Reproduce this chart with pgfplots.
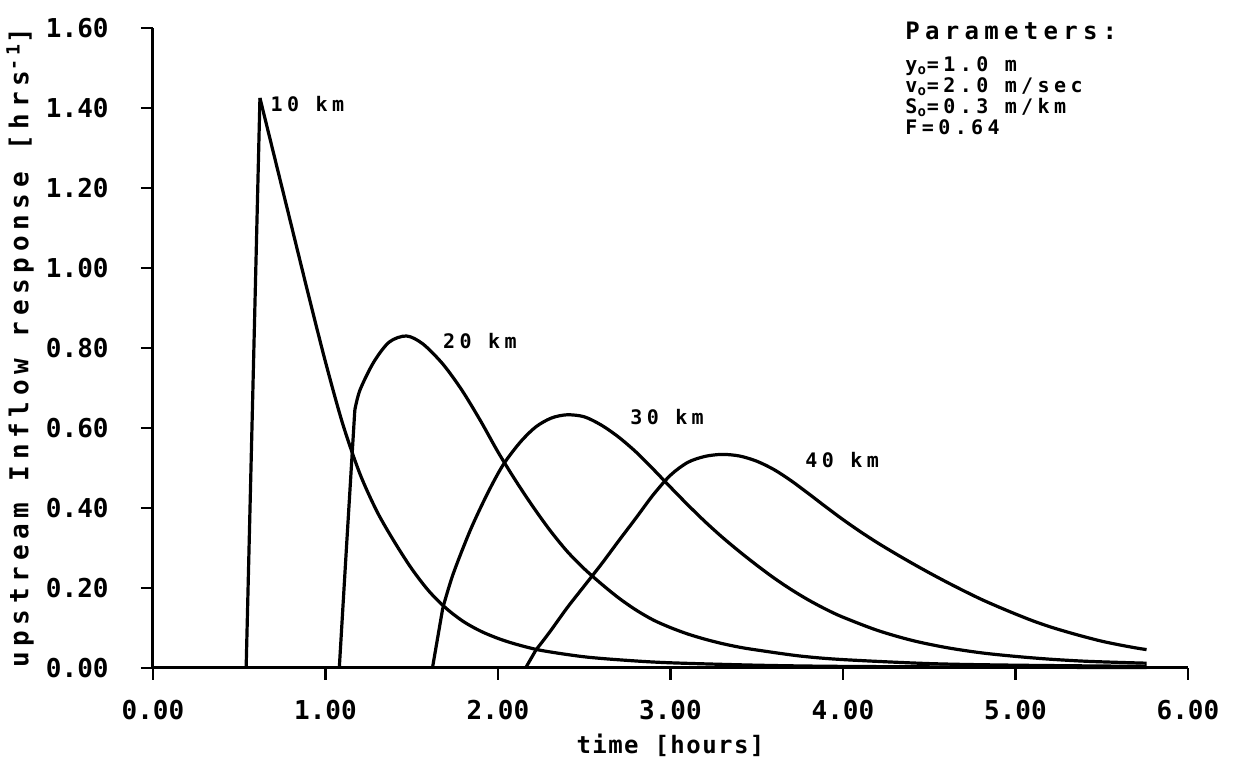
\documentclass[border=0pt]{standalone}
\usepackage{fontspec}
\setmainfont{DejaVu Sans Mono}
\newfontfamily\pf{DejaVu Sans Mono}
\newfontfamily\pfs{DejaVu Sans Mono}[LetterSpace=22]
\newfontfamily\pfx{DejaVu Sans Mono}[LetterSpace=6]
\usepackage{pgfplots}
\pgfplotsset{compat=1.18}
\tikzset{curve/.style={black, solid, line width=1.6pt, line join=round, mark=none}}
\begin{document}
\begin{tikzpicture}
\begin{axis}[
  at={(0,0)}, anchor=south west,
  scale only axis, width=517.5pt, height=320pt,
  xmin=0, xmax=6, ymin=0, ymax=1.6,
  axis lines=left,
  axis line style={-, line width=1.5pt},
  xtick={0,1,2,3,4,5,6},
  ytick={0,0.2,0.4,0.6,0.8,1.0,1.2,1.4,1.6},
  tick align=outside,
  major tick length=6pt,
  tick style={line width=1.3pt, black},
  /pgf/number format/assume math mode=true,
  /pgf/number format/.cd, fixed, fixed zerofill, precision=2, /pgfplots/.cd,
  ticklabel style={font=\pf\bfseries\fontsize{13}{13}\selectfont, inner sep=0pt},
  yticklabel style={anchor=east, xshift=-16pt},
  xticklabel style={anchor=north, yshift=-10pt},
  xlabel={time [hours]},
  ylabel={upstream Inflow response [hrs\textsuperscript{-1}]},
  xlabel style={font=\pfx\bfseries\fontsize{12}{12}\selectfont, at={(axis description cs:0.5,0)}, anchor=center, yshift=-38.5pt},
  ylabel style={font=\pfs\bfseries\fontsize{13}{13}\selectfont, at={(axis description cs:-0.1285,0.5)}, anchor=center},
  clip=false,
]
% 10 km: rise and decay
\addplot[curve] coordinates {(0.54,0) (0.62,1.425)};
\addplot[curve, smooth, tension=0.5] coordinates {(0.62,1.425) (0.70,1.285) (0.80,1.11) (0.90,0.935) (1.00,0.765) (1.10,0.61) (1.20,0.485) (1.30,0.39) (1.40,0.315) (1.50,0.248) (1.60,0.192) (1.70,0.149) (1.80,0.116) (1.90,0.092) (2.00,0.074) (2.10,0.060) (2.25,0.044) (2.50,0.028) (2.75,0.019) (3.00,0.013) (3.50,0.007) (4.00,0.004) (5.00,0.002) (5.76,0.001)};
% 20 km
\addplot[curve] coordinates {(1.08,0) (1.12,0.29) (1.17,0.645)};
\addplot[curve, smooth, tension=0.5] coordinates {(1.17,0.645) (1.20,0.695) (1.28,0.765) (1.37,0.815) (1.47,0.83) (1.565,0.81) (1.68,0.76) (1.79,0.695) (1.90,0.617) (2.00,0.540) (2.10,0.470) (2.20,0.405) (2.30,0.345) (2.40,0.292) (2.50,0.248) (2.60,0.210) (2.70,0.175) (2.80,0.145) (2.90,0.120) (3.00,0.101) (3.10,0.085) (3.20,0.072) (3.30,0.061) (3.40,0.052) (3.50,0.045) (3.75,0.030) (4.00,0.021) (4.50,0.011) (5.00,0.007) (5.76,0.004)};
% 30 km
\addplot[curve] coordinates {(1.62,0) (1.68,0.15)};
\addplot[curve, smooth, tension=0.5] coordinates {(1.68,0.15) (1.74,0.235) (1.84,0.345) (1.94,0.437) (2.03,0.508) (2.13,0.565) (2.22,0.603) (2.31,0.625) (2.40,0.633) (2.50,0.628) (2.60,0.607) (2.70,0.577) (2.80,0.540) (2.90,0.497) (3.00,0.452) (3.10,0.408) (3.20,0.366) (3.30,0.327) (3.40,0.291) (3.50,0.257) (3.60,0.225) (3.70,0.196) (3.80,0.170) (3.90,0.147) (4.00,0.127) (4.20,0.094) (4.40,0.069) (4.60,0.051) (4.80,0.038) (5.00,0.029) (5.20,0.022) (5.40,0.017) (5.60,0.014) (5.76,0.012)};
% 40 km
\addplot[curve] coordinates {(2.16,0) (2.22,0.045)};
\addplot[curve, smooth, tension=0.5] coordinates {(2.22,0.045) (2.30,0.09) (2.40,0.15) (2.50,0.205) (2.60,0.26) (2.70,0.318) (2.80,0.375) (2.90,0.433) (3.00,0.482) (3.10,0.514) (3.20,0.529) (3.30,0.534) (3.40,0.530) (3.50,0.517) (3.60,0.496) (3.70,0.468) (3.80,0.436) (3.90,0.403) (4.00,0.371) (4.10,0.341) (4.20,0.313) (4.30,0.287) (4.40,0.262) (4.50,0.238) (4.60,0.215) (4.70,0.193) (4.80,0.172) (4.90,0.153) (5.00,0.135) (5.10,0.118) (5.20,0.103) (5.30,0.09) (5.40,0.078) (5.50,0.067) (5.60,0.058) (5.70,0.05) (5.76,0.046)};
\node[anchor=west, inner sep=0pt, font=\pfs\bfseries\fontsize{10}{10}\selectfont] at (axis cs:0.68,1.41) {10 km};
\node[anchor=west, inner sep=0pt, font=\pfs\bfseries\fontsize{10}{10}\selectfont] at (axis cs:1.68,0.818) {20 km};
\node[anchor=west, inner sep=0pt, font=\pfs\bfseries\fontsize{10}{10}\selectfont] at (axis cs:2.765,0.628) {30 km};
\node[anchor=west, inner sep=0pt, font=\pfs\bfseries\fontsize{10}{10}\selectfont] at (axis cs:3.78,0.52) {40 km};
\node[anchor=north west, inner sep=0pt, align=left, font=\pfs\bfseries\fontsize{10}{10.6}\selectfont] at (axis cs:4.36,1.615)
  {{\fontsize{12}{12}\selectfont Parameters:}\\[5pt]
   y\textsubscript{o}=1.0 m\\
   v\textsubscript{o}=2.0 m/sec\\
   S\textsubscript{o}=0.3 m/km\\
   F=0.64};
\end{axis}
\pgfresetboundingbox
\path (-76.5pt,-48.5pt) rectangle (540pt,334pt);
\end{tikzpicture}
\end{document}
